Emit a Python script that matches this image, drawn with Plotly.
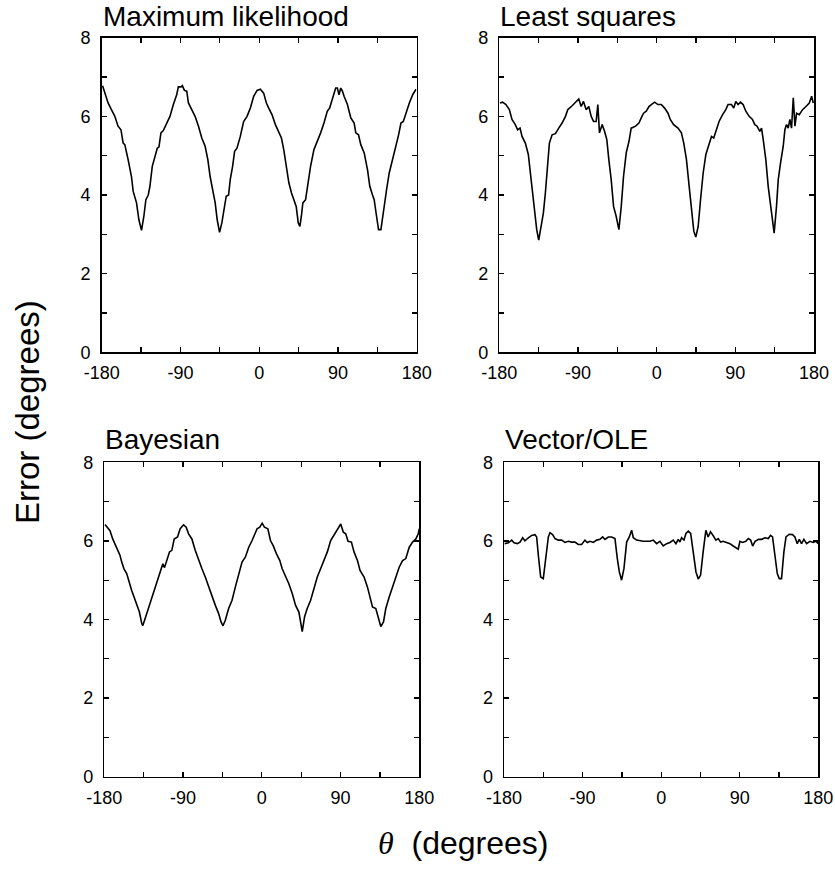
import plotly.graph_objects as go

# ---------------- data ----------------
ml_x = [-179, -176.6, -172.7, -168.9, -165, -161.3, -158, -155.5, -153.6, -149.8, -146, -144, -140.2, -137.5,
        -134.5, -131.8, -129.5, -126.8, -124.9, -122.2, -119.2, -116.5, -114.6, -112.3, -109.6, -105.8, -102,
        -98.1, -94.3, -92.4, -89.3, -87.8, -85.5, -82.8, -80.9, -77.1, -73.3, -69.4, -65.6, -61.8, -58.7, -56.1,
        -53.4, -50.3, -48, -45.3, -42.7, -39.6, -37.7, -35, -33.1, -30.4, -28.1, -25.4, -21.6, -17.8, -13.9,
        -10.1, -6.3, -2.4, 1.3, 5.1, 8.2, 10.9, 14.7, 18.5, 22.4, 25.4, 28.1, 30.8, 33.9, 36.9, 39.6, 42.3,
        44.6, 46.5, 48.4, 49.9, 53, 56, 58.7, 62.5, 66.4, 70.2, 74, 77.8, 80.5, 83.6, 85.5, 87.4, 89.3, 91.2,
        93.2, 95.1, 97, 100.8, 104.7, 108.5, 110.4, 113.5, 116.1, 120, 123.8, 126.4, 129.5, 131.4, 134.1,
        136.4, 139.1, 141, 142.9, 145.6, 148.6, 151.7, 154.4, 157, 159.3, 162, 164.7, 167.7, 171.6, 175.4, 179.2]
ml_y = [6.78, 6.59, 6.34, 6.17, 6.0, 5.75, 5.66, 5.32, 5.28, 4.9, 4.47, 4.09, 3.8, 3.37,
        3.1, 3.46, 3.88, 4.0, 4.22, 4.73, 4.98, 5.19, 5.22, 5.58, 5.64, 5.83, 6.0,
        6.3, 6.55, 6.75, 6.75, 6.78, 6.66, 6.64, 6.34, 6.17, 6.0, 5.75, 5.45, 5.24, 4.9, 4.47,
        4.14, 3.8, 3.37, 3.05, 3.29, 3.71, 3.97, 4.0, 4.39, 4.73, 5.11, 5.19, 5.49, 5.87, 6.0,
        6.21, 6.51, 6.66, 6.69, 6.59, 6.34, 6.21, 6.04, 5.79, 5.62, 5.45, 5.15, 4.81, 4.31, 4.05, 3.88, 3.71,
        3.29, 3.2, 3.5, 3.8, 3.88, 4.31, 4.73, 5.15, 5.36, 5.58, 5.83, 6.13, 6.21, 6.42, 6.59, 6.72, 6.72, 6.55,
        6.72, 6.64, 6.51, 6.3, 5.96, 5.83, 5.58, 5.53, 5.28, 5.07, 4.64, 4.22, 4.0, 3.88, 3.46,
        3.12, 3.12, 3.46, 3.8, 4.14, 4.56, 4.86, 5.15, 5.32, 5.53, 5.83, 5.87, 6.08, 6.34, 6.55, 6.69]

ls_x = [-179.2, -176.2, -172.4, -168.5, -165.5, -161.7, -159, -156.3, -154, -150.2, -146.8, -144.5, -142.6,
        -139.9, -137.2, -134.9, -132.2, -129.6, -127.3, -124.6, -122.7, -119.6, -115.8, -112, -108.2, -104.3,
        -101.7, -96.7, -92.1, -89.1, -86.4, -83.7, -80.6, -77.6, -74.9, -72.2, -69.2, -67.3, -65.4, -62.3,
        -59.6, -57, -54.7, -52, -49.3, -46.3, -43.2, -40.5, -37.9, -34.8, -31.7, -29.1, -24.1, -20.3, -17.6,
        -15, -11.9, -8.8, -6.1, -2.3, 1.5, 5.3, 9.1, 13, 15.6, 19.4, 24.4, 28.3, 31, 34.1, 37.2, 39.9, 42.5,
        44.8, 47.5, 50.2, 53.2, 56.3, 60.1, 62.7, 65.3, 68.4, 71.4, 75.3, 79.1, 81.7, 85.6, 88.2, 90.5, 93.2,
        95.9, 98.9, 102, 105.8, 109.6, 112.3, 114.9, 118, 120, 121.9, 124.9, 127.6, 130.3, 132.5, 134.4,
        137.1, 139.1, 141.7, 144.8, 146.7, 148.6, 150.5, 152.4, 154.3, 156.3, 158.2, 160.1, 163.1, 166.9,
        170.8, 174.6, 177.3, 179.2]
ls_y = [6.34, 6.36, 6.3, 6.17, 5.92, 5.79, 5.66, 5.7, 5.49, 5.32, 5.03, 4.56, 4.05,
        3.54, 3.12, 2.85, 3.2, 3.54, 4.05, 4.9, 5.32, 5.53, 5.56, 5.7, 5.83, 6.0,
        6.17, 6.27, 6.36, 6.44, 6.25, 6.38, 6.17, 6.25, 6.0, 5.87, 5.87, 6.3, 5.58, 5.79,
        5.62, 5.41, 4.9, 4.39, 3.71, 3.46, 3.12, 3.71, 4.47, 5.07, 5.36, 5.7, 5.75, 5.83, 5.96,
        6.08, 6.13, 6.25, 6.3, 6.36, 6.3, 6.3, 6.21, 6.08, 5.92, 5.79, 5.7, 5.58, 5.32, 4.9, 4.22, 3.54, 3.08,
        2.93, 3.2, 3.88, 4.56, 5.03, 5.32, 5.49, 5.45, 5.66, 5.87, 6.04, 6.17, 6.3, 6.3, 6.21, 6.38, 6.3,
        6.36, 6.3, 6.13, 6.0, 5.92, 5.79, 5.75, 5.62, 5.7, 5.41, 4.9, 4.22, 3.71, 3.29, 3.03,
        3.71, 4.39, 4.81, 5.24, 5.66, 5.79, 5.7, 5.92, 5.7, 6.47, 5.75, 6.08, 6.04, 6.17,
        6.25, 6.34, 6.51, 6.34]

by_x = [-179.2, -176.6, -173.5, -170.4, -167.8, -165.1, -162, -160.1, -157.5, -154.4, -151.3, -148.7, -146,
        -142.9, -139.9, -137.2, -136.1, -133.4, -129.6, -125.7, -121.9, -118.1, -115.4, -113.1, -111.2,
        -108.5, -105.5, -102.8, -100.1, -96.3, -93.3, -89.4, -86.4, -83.7, -79.9, -76.1, -72.2, -68.4, -64.6,
        -60.8, -56.9, -53.1, -49.3, -46.6, -44.3, -41.7, -37.9, -34, -30.2, -26.4, -22.6, -18.7, -14.9,
        -11.1, -8.4, -5.4, -2.3, 0.4, 3, 6.9, 9.9, 13, 16.8, 20.6, 23.3, 27.1, 30.9, 34.8, 38.6, 42.4, 44.3,
        46.2, 48.9, 51.9, 55.8, 59.6, 63.4, 67.2, 71.1, 74.9, 78.7, 82.5, 86.3, 90.2, 93.2, 95.9, 98.6, 102.4,
        105.4, 109.3, 112.3, 116.9, 120.7, 123.8, 126.5, 130.3, 133, 136, 139.1, 141.7, 145.6, 149.4, 153.2,
        157, 160.9, 164.6, 168.5, 172.3, 176.1, 178.8, 180]
by_y = [6.42, 6.35, 6.26, 6.05, 5.93, 5.8, 5.63, 5.46, 5.29, 5.17, 4.91, 4.74, 4.57,
        4.36, 4.19, 3.9, 3.84, 4.02, 4.28, 4.53, 4.79, 5.04, 5.21, 5.42, 5.32,
        5.5, 5.72, 5.76, 6.05, 6.1, 6.31, 6.41, 6.35, 6.18, 6.05, 5.76, 5.5, 5.29, 5.08,
        4.83, 4.57, 4.36, 4.15, 3.94, 3.84, 3.98, 4.28, 4.49, 4.83, 5.17, 5.46, 5.59, 5.84,
        6.01, 6.14, 6.31, 6.35, 6.45, 6.35, 6.31, 6.01, 5.88, 5.67, 5.5, 5.29, 5.12, 4.91, 4.66, 4.36, 4.19, 3.98,
        3.69, 4.07, 4.28, 4.49, 4.79, 5.08, 5.29, 5.5, 5.72, 6.01, 6.14, 6.28, 6.43, 6.22, 6.18, 5.99, 5.97,
        5.72, 5.5, 5.25, 5.08, 4.83, 4.57, 4.32, 4.28, 4.07, 3.82, 3.94, 4.28, 4.57, 4.83, 5.04,
        5.33, 5.5, 5.55, 5.84, 5.97, 6.05, 6.18, 6.31]

ve_x = [-179.2, -175, -171.2, -168.5, -164.7, -161.7, -158.6, -156, -152.1, -148.3, -144.5, -142.6, -140.7,
        -138, -135, -131.9, -129.2, -127.3, -124.3, -121.6, -117.8, -114, -110.2, -106.3, -102.5, -98.7,
        -94.9, -91.1, -87.3, -84.6, -81.5, -77.7, -73.9, -70.1, -67, -64.4, -60.5, -56.7, -52.9, -50.2,
        -47.9, -45.3, -42.6, -39.5, -36.5, -33.8, -31.9, -28.1, -24.3, -20.5, -16.6, -12.8, -9, -5.2, -1.4,
        2.4, 6.3, 10.1, 13.9, 16.9, 19.6, 21.5, 23.4, 26.1, 28.4, 31.1, 33.8, 36.8, 39.9, 42.5, 45.2, 48.1,
        51.2, 53.8, 56.5, 59.7, 62.7, 65.4, 68.1, 71.1, 74.9, 78.8, 82.6, 86.4, 88.3, 90.2, 93.2, 97, 99.8,
        102.5, 104.8, 107.6, 111.5, 115.2, 119, 122.7, 125.3, 127.6, 130.3, 133, 135.3, 137.9, 140.6, 143,
        146.7, 150.5, 153.2, 155.9, 158.2, 160.8, 163.5, 166.6, 170.4, 174.2, 177.3, 179.9]
ve_y = [5.93, 5.95, 6.02, 5.95, 5.93, 5.97, 6.08, 6.0, 6.08, 6.14, 6.16, 6.1, 5.64,
        5.08, 5.04, 5.55, 6.1, 6.21, 6.16, 6.06, 6.02, 6.02, 5.96, 5.99, 5.97, 5.97,
        5.91, 5.91, 6.02, 5.96, 5.99, 5.96, 6.02, 6.04, 6.1, 6.04, 6.1, 6.1, 6.06, 5.55,
        5.21, 5.0, 5.3, 5.97, 6.1, 6.27, 6.08, 6.02, 6.0, 5.99, 5.99, 5.99, 6.02, 5.93, 5.99,
        5.87, 5.93, 5.96, 6.02, 5.93, 6.04, 5.97, 6.08, 6.02, 6.19, 6.25, 6.19, 5.72, 5.21, 5.03, 5.13, 5.72,
        6.27, 6.1, 6.23, 6.13, 6.02, 6.06, 5.97, 5.99, 5.96, 5.93, 5.87, 5.82, 5.79, 5.99, 5.96, 5.99, 6.06,
        6.02, 5.87, 5.99, 6.04, 6.04, 6.08, 6.06, 6.14, 6.1, 5.59, 5.17, 5.04, 5.04, 5.72, 6.1,
        6.17, 6.16, 6.1, 5.93, 6.04, 5.93, 6.04, 5.93, 5.99, 5.96, 5.99, 5.93]

panel_titles = ["Maximum likelihood", "Least squares", "Bayesian", "Vector/OLE"]
x_ticks = [-180, -90, 0, 90, 180]
y_ticks = [0, 2, 4, 6, 8]

# ---------------- figure ----------------
W, H = 835, 885
FONT = "Liberation Sans, Arial, Helvetica, sans-serif"

# panel boxes in window pixels: (left, right, top, bottom)
boxes = [(101.7, 416.7, 37.7, 352.3),
         (499.3, 814.0, 37.7, 352.3),
         (104.3, 419.3, 462.3, 776.7),
         (504.0, 818.3, 462.3, 776.7)]
series = [(ml_x, ml_y), (ls_x, ls_y), (by_x, by_y), (ve_x, ve_y)]


def px(x):
    return x / W


def py(y):
    return 1 - y / H


fig = go.Figure()
layout = dict(
    template="none",
    width=W, height=H,
    margin=dict(l=0, r=0, t=0, b=0, pad=0),
    paper_bgcolor="white", plot_bgcolor="white",
    showlegend=False,
    font=dict(family=FONT, color="black", size=18),
)

annotations = []
for i, ((xs, ys), (l, r, t, b), title) in enumerate(zip(series, boxes, panel_titles)):
    n = "" if i == 0 else str(i + 1)
    xa, ya = "xaxis" + n, "yaxis" + n
    fig.add_trace(go.Scatter(x=xs, y=ys, mode="lines",
                             line=dict(color="black", width=1.6),
                             xaxis="x" + n, yaxis="y" + n, hoverinfo="skip"))
    common = dict(showline=True, linecolor="black", linewidth=1.5, mirror="ticks",
                  ticks="inside", ticklen=5, tickwidth=1.3, tickcolor="black",
                  showgrid=False, zeroline=False, automargin=False,
                  tickfont=dict(size=18, family=FONT, color="black"),
                  fixedrange=True)
    layout[xa] = dict(domain=[px(l), px(r)], range=[-180, 180], tickvals=x_ticks,
                      ticktext=[str(v) for v in x_ticks], ticklabelstandoff=4,
                      ticklabeloverflow="allow",
                      minor=dict(ticks="inside", ticklen=5, tickwidth=1.3, tickcolor="black", dtick=45,
                                 tick0=-180, showgrid=False),
                      anchor="y" + n, **common)
    layout[ya] = dict(domain=[py(b), py(t)], range=[0, 8], tickvals=y_ticks,
                      ticktext=[str(v) for v in y_ticks], ticklabelstandoff=6,
                      minor=dict(ticks="inside", ticklen=5, tickwidth=1.3, tickcolor="black", dtick=1,
                                 tick0=0, showgrid=False),
                      anchor="x" + n, **common)
    annotations.append(dict(text=title, xref="paper", yref="paper",
                            x=px(l), y=py(max(t - 39, 0)), xanchor="left", yanchor="top",
                            borderpad=0, showarrow=False,
                            font=dict(size=28, family=FONT, color="black")))

annotations.append(dict(text="Error (degrees)", xref="paper", yref="paper",
                        x=px(27), y=py(412), textangle=-90, xanchor="center", yanchor="middle",
                        showarrow=False, font=dict(size=33, family=FONT, color="black")))
annotations.append(dict(
    text="<span style='font-family:Liberation Serif, Times New Roman, serif'><i>θ</i></span>  (degrees)",
    xref="paper", yref="paper", x=px(463), y=py(843), xanchor="center", yanchor="middle",
    showarrow=False, font=dict(size=32, family=FONT, color="black")))

layout["annotations"] = annotations
fig.update_layout(**layout)
fig.write_html("out.html", config={"displayModeBar": False, "staticPlot": True},
               post_script="document.body.style.margin='0';document.body.style.overflow='hidden';")
